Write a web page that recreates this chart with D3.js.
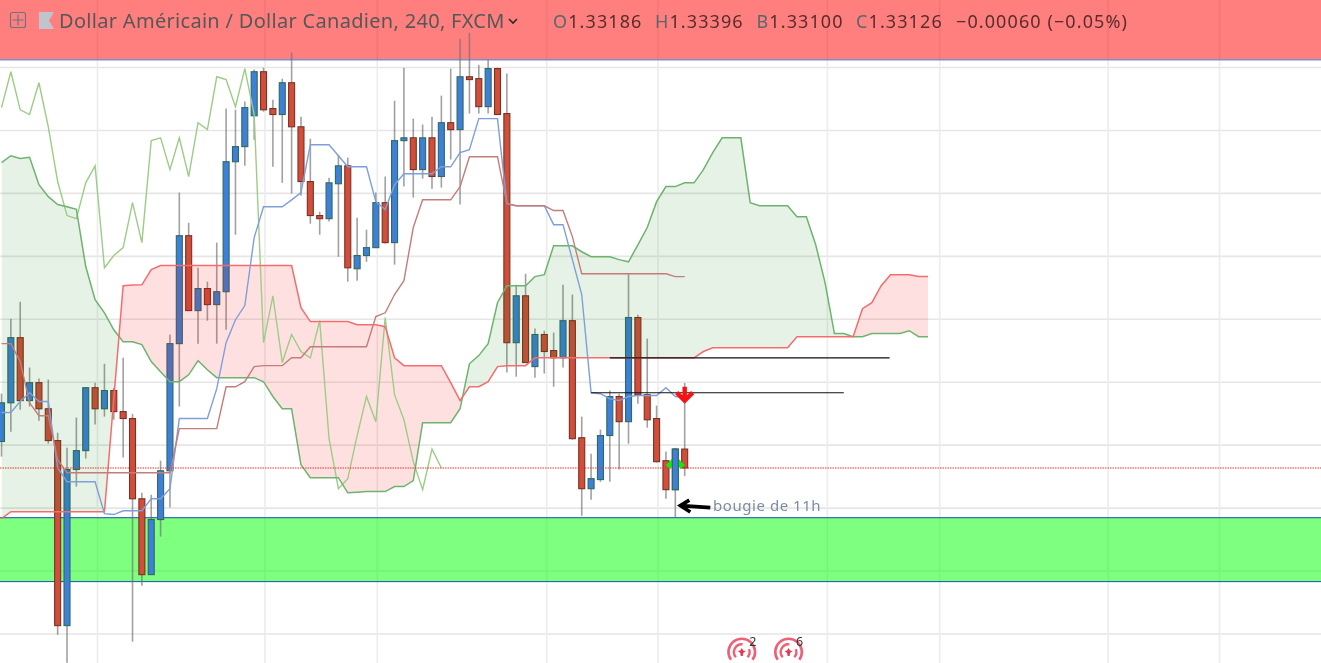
<!DOCTYPE html>
<html>
  <head>
    <meta charset="utf-8">
    <title>Dollar Américain / Dollar Canadien</title>
    <style>
      html, body { margin: 0; padding: 0; background: #fff; overflow: hidden; }
      svg { display: block; filter: blur(0.35px); }
      text { font-family: "Noto Sans", sans-serif; }
    </style>
    <script src="https://d3js.org/d3.v7.min.js"></script>
  </head>
  <body>
    <script>
    // candles, 4h bars
    const opens = [1.33210,1.33333,1.33540,1.33340,1.33397,1.33314,1.33213,1.32625,1.33121,1.33181,1.33381,1.33314,1.33372,1.33305,1.33283,1.33028,1.32787,1.32962,1.33117,1.33521,1.33864,1.33626,1.33696,1.33645,1.33686,1.34099,1.34147,1.34245,1.34385,1.34268,1.34249,1.34350,1.34210,1.34036,1.33928,1.33918,1.34029,1.34086,1.33759,1.33801,1.33826,1.33969,1.33842,1.34166,1.34175,1.34074,1.34175,1.34052,1.34223,1.34201,1.34369,1.34363,1.34274,1.34395,1.34252,1.33524,1.33673,1.33448,1.33550,1.33499,1.33476,1.33594,1.33222,1.33060,1.33089,1.33229,1.33353,1.33273,1.33604,1.33359,1.33283,1.33149,1.33057,1.33186];
    const highs = [1.33362,1.33600,1.33654,1.33445,1.33410,1.33407,1.33238,1.33190,1.33286,1.33381,1.33397,1.33457,1.33381,1.33476,1.33298,1.33047,1.33041,1.33149,1.33550,1.34001,1.33905,1.33762,1.33718,1.33842,1.34268,1.34264,1.34290,1.34392,1.34398,1.34296,1.34363,1.34446,1.34242,1.34172,1.33940,1.34048,1.34121,1.34112,1.33921,1.33883,1.34001,1.34052,1.34293,1.34398,1.34236,1.34217,1.34242,1.34309,1.34395,1.34490,1.34509,1.34407,1.34423,1.34398,1.34379,1.33708,1.33743,1.33569,1.33562,1.33556,1.33708,1.33677,1.33289,1.33171,1.33248,1.33372,1.33362,1.33743,1.33613,1.33537,1.33324,1.33178,1.33190,1.33396];
    const lows = [1.33162,1.33241,1.33311,1.33321,1.33276,1.33203,1.32596,1.32507,1.33067,1.33156,1.33264,1.33289,1.33279,1.33159,1.32574,1.32752,1.32787,1.32908,1.33000,1.33321,1.33626,1.33521,1.33594,1.33521,1.33565,1.33867,1.34086,1.34169,1.34258,1.34083,1.34032,1.33998,1.33991,1.33902,1.33867,1.33909,1.33797,1.33718,1.33721,1.33781,1.33826,1.33839,1.33772,1.34020,1.33985,1.34045,1.34013,1.34017,1.34106,1.33963,1.34252,1.34252,1.34252,1.34249,1.33429,1.33416,1.33461,1.33413,1.33426,1.33384,1.33445,1.33216,1.32974,1.33025,1.33082,1.33082,1.33121,1.33203,1.33330,1.33254,1.33143,1.33028,1.32968,1.33100];
    const closes = [1.33333,1.33540,1.33340,1.33397,1.33314,1.33213,1.32625,1.33121,1.33181,1.33381,1.33314,1.33372,1.33305,1.33283,1.33028,1.32787,1.32962,1.33117,1.33521,1.33864,1.33626,1.33696,1.33645,1.33686,1.34099,1.34147,1.34271,1.34385,1.34264,1.34249,1.34350,1.34210,1.34036,1.33928,1.33918,1.34032,1.34086,1.33762,1.33801,1.33826,1.33969,1.33842,1.34166,1.34175,1.34074,1.34175,1.34052,1.34223,1.34201,1.34369,1.34360,1.34274,1.34395,1.34249,1.33524,1.33673,1.33461,1.33550,1.33496,1.33476,1.33594,1.33219,1.33060,1.33092,1.33229,1.33353,1.33273,1.33604,1.33359,1.33279,1.33146,1.33057,1.33186,1.33126];

    // ichimoku lines
    const tenkan = [1.33302,1.33302,1.33337,1.33365,1.33337,1.33337,1.33127,1.33082,1.33082,1.33082,1.33082,1.32981,1.32978,1.32990,1.32990,1.32990,1.33028,1.33028,1.33060,1.33283,1.33283,1.33283,1.33283,1.33378,1.33524,1.33597,1.33642,1.33858,1.33956,1.33956,1.33956,1.33978,1.34001,1.34153,1.34153,1.34153,1.34118,1.34083,1.34083,1.34083,1.33972,1.33947,1.34026,1.34061,1.34061,1.34061,1.34061,1.34083,1.34083,1.34128,1.34137,1.34236,1.34236,1.34236,1.33966,1.33959,1.33959,1.33959,1.33959,1.33899,1.33899,1.33788,1.33677,1.33365,1.33362,1.33346,1.33340,1.33353,1.33356,1.33356,1.33356,1.33381,1.33353,1.33349];
    const kijun = [1.33521,1.33521,1.33464,1.33333,1.33292,1.33292,1.33152,1.33111,1.33111,1.33111,1.33111,1.33111,1.33111,1.33111,1.33111,1.33111,1.33111,1.33111,1.33111,1.33251,1.33251,1.33251,1.33251,1.33251,1.33384,1.33384,1.33400,1.33448,1.33451,1.33451,1.33451,1.33476,1.33476,1.33511,1.33511,1.33511,1.33511,1.33511,1.33511,1.33511,1.33607,1.33619,1.33677,1.33721,1.33890,1.33978,1.33978,1.33978,1.33978,1.34020,1.34115,1.34115,1.34115,1.34115,1.33966,1.33959,1.33959,1.33959,1.33959,1.33944,1.33944,1.33861,1.33743,1.33743,1.33743,1.33743,1.33743,1.33743,1.33743,1.33743,1.33743,1.33743,1.33734,1.33734];
    const chikou = [1.34271,1.34385,1.34264,1.34249,1.34350,1.34210,1.34036,1.33928,1.33918,1.34032,1.34086,1.33762,1.33801,1.33826,1.33969,1.33842,1.34166,1.34175,1.34074,1.34175,1.34052,1.34223,1.34201,1.34369,1.34360,1.34274,1.34395,1.34249,1.33524,1.33673,1.33461,1.33550,1.33496,1.33476,1.33594,1.33219,1.33060,1.33092,1.33229,1.33353,1.33273,1.33604,1.33359,1.33279,1.33146,1.33057,1.33186,1.33126];
    const senkouA = [1.34096,1.34118,1.34109,1.34113,1.34026,1.33988,1.33963,1.33956,1.33948,1.33766,1.33661,1.33619,1.33565,1.33527,1.33527,1.33518,1.33464,1.33432,1.33400,1.33400,1.33422,1.33467,1.33438,1.33413,1.33413,1.33413,1.33413,1.33413,1.33400,1.33353,1.33314,1.33314,1.33136,1.33095,1.33095,1.33095,1.33095,1.33047,1.33049,1.33051,1.33051,1.33051,1.33067,1.33067,1.33086,1.33270,1.33270,1.33270,1.33270,1.33314,1.33457,1.33483,1.33521,1.33651,1.33705,1.33705,1.33705,1.33734,1.33740,1.33832,1.33832,1.33832,1.33813,1.33797,1.33797,1.33797,1.33788,1.33781,1.33835,1.33890,1.33972,1.34020,1.34020,1.34032,1.34032,1.34074,1.34128,1.34175,1.34175,1.34175,1.33969,1.33959,1.33959,1.33959,1.33959,1.33924,1.33924,1.33835,1.33715,1.33553,1.33553,1.33543,1.33543,1.33553,1.33553,1.33553,1.33553,1.33562,1.33543,1.33543];
    const senkouB = [1.32965,1.32987,1.32987,1.32987,1.32987,1.32987,1.32987,1.32987,1.32987,1.32987,1.32987,1.32987,1.33346,1.33705,1.33707,1.33708,1.33756,1.33769,1.33769,1.33769,1.33769,1.33769,1.33769,1.33769,1.33769,1.33769,1.33769,1.33769,1.33769,1.33769,1.33769,1.33769,1.33635,1.33591,1.33591,1.33591,1.33591,1.33591,1.33581,1.33581,1.33581,1.33575,1.33476,1.33451,1.33451,1.33451,1.33451,1.33451,1.33397,1.33340,1.33384,1.33384,1.33400,1.33448,1.33451,1.33451,1.33451,1.33476,1.33476,1.33476,1.33476,1.33476,1.33476,1.33476,1.33476,1.33476,1.33476,1.33476,1.33476,1.33476,1.33476,1.33476,1.33476,1.33476,1.33476,1.33496,1.33508,1.33508,1.33508,1.33508,1.33508,1.33508,1.33508,1.33508,1.33508,1.33543,1.33543,1.33543,1.33543,1.33543,1.33543,1.33543,1.33632,1.33651,1.33705,1.33740,1.33740,1.33740,1.33734,1.33734];

    // axis ticks, no labels in this crop
    const priceTicks = [1.3260,1.3280,1.3300,1.3320,1.3340,1.3360,1.3380,1.3400,1.3420,1.3440];
    const timeTicks = [10.2,28.1,40.1,58.2,70.1,88.2,100.2,118.2,130.1];

    // drawings on the chart
    const lastClose = 1.33126;
    const redBand = [1.34423, 1.35000];
    const greenBand = [1.32765, 1.32968];
    const trendLevels = [1.33476, 1.33365];
    const trendStarts = [65, 63];
    const trendEnds = [94.9, 90];
    const eventBars = [79.1, 84.1];
    const eventCounts = ["2", "6"];

    const titleText = "Dollar Américain / Dollar Canadien, 240, FXCM";
    const ohlcNames = ["O", "H", "B", "C", ""];
    const ohlcValues = ["1.33186", "1.33396", "1.33100", "1.33126", "−0.00060 (−0.05%)"];
    const ohlcX = [553, 655, 756.5, 856, 956];

    const w = 1321, h = 663;
    const bodyW = 6;

    const x = d3.scaleLinear().domain([0, 99]).range([1.5, 928]);
    const y = d3.scaleLinear().domain([1.3260, 1.3440]).range([633.5, 67]);

    const svg = d3.select("body").append("svg").attr("width", w).attr("height", h);

    // grid
    svg.append("g").attr("class", "y-grid")
      .call(d3.axisRight(y).tickValues(priceTicks).tickSize(w).tickFormat(""))
      .call(g => g.select(".domain").remove())
      .selectAll("line").attr("stroke", "#e6e6e6").attr("stroke-width", 1.6);
    svg.append("g").attr("class", "x-grid")
      .call(d3.axisBottom(x).tickValues(timeTicks).tickSize(h).tickFormat(""))
      .call(g => g.select(".domain").remove())
      .selectAll("line").attr("stroke", "#ececec").attr("stroke-width", 1.6);

    // the two rectangles
    svg.append("rect").attr("x", 0).attr("width", w)
      .attr("y", y(redBand[1])).attr("height", y(redBand[0]) - y(redBand[1]))
      .attr("fill", "rgba(255,0,0,0.5)");
    svg.append("line").attr("x1", 0).attr("x2", w).attr("y1", y(redBand[0])).attr("y2", y(redBand[0]))
      .attr("stroke", "#7f8fc8").attr("stroke-width", 1.4);
    svg.append("rect").attr("x", -5).attr("width", w + 10)
      .attr("y", y(greenBand[1])).attr("height", y(greenBand[0]) - y(greenBand[1]))
      .attr("fill", "rgba(0,255,0,0.5)")
      .attr("stroke", "#1f62b0").attr("stroke-width", 1.1);

    // candles
    const bars = d3.range(opens.length);
    svg.append("g").selectAll("line").data(bars).enter().append("line")
      .attr("x1", i => x(i)).attr("x2", i => x(i))
      .attr("y1", i => y(highs[i])).attr("y2", i => y(lows[i]))
      .attr("stroke", "#6e6e6e").attr("stroke-opacity", 0.65).attr("stroke-width", 1.6);
    svg.append("g").selectAll("rect").data(bars).enter().append("rect")
      .attr("x", i => x(i) - bodyW / 2)
      .attr("width", bodyW)
      .attr("y", i => y(Math.max(opens[i], closes[i])))
      .attr("height", i => Math.abs(y(opens[i]) - y(closes[i])))
      .attr("fill", i => closes[i] >= opens[i] ? "#3d7fd9" : "#d04f3b")
      .attr("stroke", i => closes[i] >= opens[i] ? "#2f6b5c" : "#7d2f24")
      .attr("stroke-width", 1.1);

    // cloud: same band clipped on each side of span B
    const idx = d3.range(senkouA.length);
    const defs = svg.append("defs");
    defs.append("clipPath").attr("id", "aboveB").append("path")
      .attr("d", d3.area().x(i => x(i)).y0(0).y1(i => y(senkouB[i]))(idx));
    defs.append("clipPath").attr("id", "belowB").append("path")
      .attr("d", d3.area().x(i => x(i)).y0(h).y1(i => y(senkouB[i]))(idx));
    const cloud = d3.area().x(i => x(i)).y0(i => y(senkouA[i])).y1(i => y(senkouB[i]));
    svg.append("path").attr("d", cloud(idx)).attr("clip-path", "url(#aboveB)").attr("fill", "rgba(0,128,0,0.1)");
    svg.append("path").attr("d", cloud(idx)).attr("clip-path", "url(#belowB)").attr("fill", "rgba(255,0,0,0.12)");

    // ichimoku lines
    function drawLine(values, color, width) {
      const line = d3.line().x((d, i) => x(i)).y(d => y(d));
      svg.append("path").attr("d", line(values)).attr("fill", "none")
        .attr("stroke", color).attr("stroke-width", width);
    }
    drawLine(chikou, "#9ccc86", 1.4);
    drawLine(senkouA, "#6db36d", 1.5);
    drawLine(senkouB, "#f56c6c", 1.5);
    drawLine(tenkan, "#7f9fd9", 1.4);
    drawLine(kijun, "#c47d7a", 1.4);

    // last price
    svg.append("line").attr("x1", 0).attr("x2", w).attr("y1", y(lastClose)).attr("y2", y(lastClose))
      .attr("stroke", "#e8372c").attr("stroke-width", 1.1).attr("stroke-dasharray", "1.5 1");

    // horizontal black lines
    svg.append("g").selectAll("line").data(trendLevels).enter().append("line")
      .attr("x1", (d, i) => x(trendStarts[i])).attr("x2", (d, i) => x(trendEnds[i]))
      .attr("y1", d => y(d)).attr("y2", d => y(d))
      .attr("stroke", "#111").attr("stroke-width", 1.2);

    // green up arrow behind bar 72, then redraw that bar's body on top
    svg.append("path")
      .attr("d", `M${x(72) - 7.5},${y(lastClose) - 1}L${x(72)},${y(lastClose) - 8.5}L${x(72) + 7.5},${y(lastClose) - 1}`)
      .attr("fill", "none").attr("stroke", "#12e812").attr("stroke-width", 5.5);
    svg.append("rect").attr("x", x(72) - bodyW / 2).attr("width", bodyW)
      .attr("y", y(closes[72])).attr("height", y(opens[72]) - y(closes[72]))
      .attr("fill", "#3d7fd9").attr("stroke", "#2f6b5c").attr("stroke-width", 1.1);

    // red down arrow on the last bar
    const ax = x(73), ay = y(1.33359);
    svg.append("path")
      .attr("d", `M${ax},${ay - 8}V${ay + 6}M${ax - 8},${ay - 2}L${ax},${ay + 6}L${ax + 8},${ay - 2}`)
      .attr("fill", "none").attr("stroke", "#f51414").attr("stroke-width", 4.4);

    // black arrow and note
    const bx = x(72) + 5, by = y(1.33000) - 2;
    svg.append("path")
      .attr("d", `M${bx + 30},${by + 2}L${bx},${by}M${bx + 9},${by - 5.5}L${bx},${by}L${bx + 10},${by + 6.5}`)
      .attr("fill", "none").attr("stroke", "#000").attr("stroke-width", 3.6);
    svg.append("text").attr("x", 713).attr("y", 511).attr("font-size", 15)
      .attr("letter-spacing", 0.55).attr("fill", "#7a8ca3").text("bougie de 11h");

    // economic events at the bottom
    const ev = svg.append("g").selectAll("g").data(eventBars).enter().append("g")
      .attr("transform", d => `translate(${x(d)},652)`);
    ev.append("path").attr("d", d3.arc()({innerRadius: 12, outerRadius: 14.6, startAngle: -2.2, endAngle: 2.2}))
      .attr("fill", "#ee6076");
    ev.append("path").attr("d", d3.arc()({innerRadius: 6.6, outerRadius: 9, startAngle: -2.3, endAngle: 0.1}))
      .attr("fill", "#ee6076");
    ev.append("path").attr("d", d3.arc()({innerRadius: 6.6, outerRadius: 9, startAngle: 1.2, endAngle: 2.3}))
      .attr("fill", "#ee6076");
    ev.append("path").attr("d", "M0,-4L1.5,-1.5L4,-1L1.5,1L1,4L-1,4L-1.5,1L-4,-1L-1.5,-1.5Z").attr("fill", "#e23b53");
    ev.append("text").attr("x", 11).attr("y", -6).attr("text-anchor", "middle").attr("font-size", 12.5).attr("fill", "#333")
      .text((d, i) => eventCounts[i]);

    // header
    svg.append("rect").attr("x", 10.5).attr("y", 12.5).attr("width", 15).attr("height", 15).attr("rx", 2)
      .attr("fill", "none").attr("stroke", "#6d7480").attr("stroke-width", 1.2);
    svg.append("path").attr("d", "M18,14.5V25.5M12.5,20H23.5").attr("stroke", "#6d7480").attr("stroke-width", 1.2);
    svg.append("path").attr("d", "M39,12H54L49,20.5L54,29H39Z").attr("fill", "#c0c4cc");
    svg.append("text").attr("x", 59).attr("y", 28).attr("font-size", 20).attr("letter-spacing", 0.3)
      .attr("fill", "#575757").text(titleText);
    svg.append("path").attr("d", "M509,19L513,23L517,19").attr("fill", "none").attr("stroke", "#2a2a2a").attr("stroke-width", 1.6);
    const ohlc = svg.append("g").selectAll("text").data(ohlcValues).enter().append("text")
      .attr("x", (d, i) => ohlcX[i]).attr("y", 28).attr("font-size", 18).attr("letter-spacing", 1.1);
    ohlc.append("tspan").attr("fill", "#56686e").text((d, i) => ohlcNames[i]);
    ohlc.append("tspan").attr("fill", "#5a2c2c").text(d => d);
    </script>
  </body>
</html>
